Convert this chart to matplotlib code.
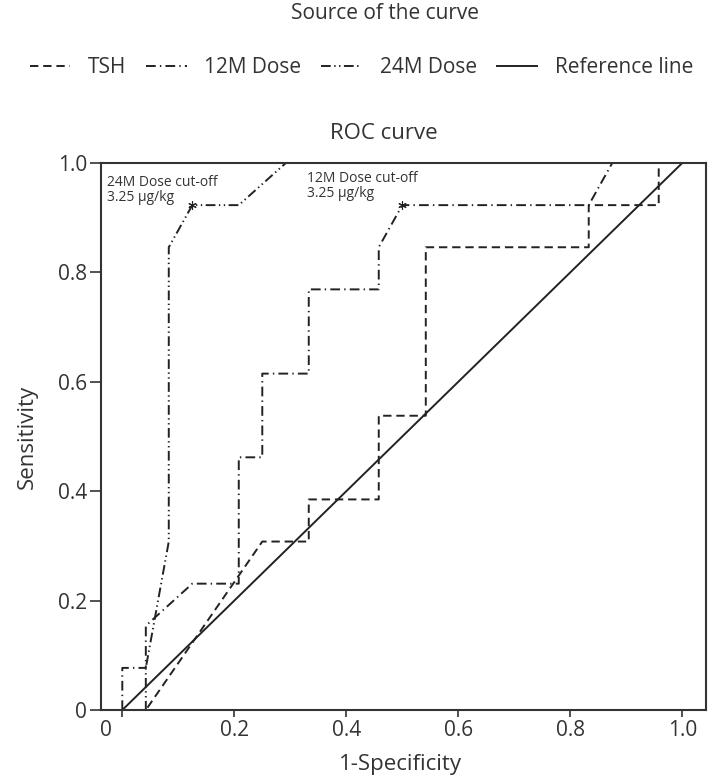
import numpy as np
import matplotlib
matplotlib.use("Agg")
import matplotlib.pyplot as plt
import matplotlib.transforms as mtransforms

plt.rcParams['font.family'] = ['Open Sans', 'DejaVu Sans']
plt.rcParams['lines.scale_dashes'] = False

# ROC curve coordinates
tsh_fpr = [0, 0.042, 0.25, 0.333, 0.333, 0.458, 0.458, 0.542, 0.542, 0.833, 0.833, 0.958, 0.958, 1.0]
tsh_tpr = [0, 0, 0.308, 0.308, 0.385, 0.385, 0.538, 0.538, 0.846, 0.846, 0.923, 0.923, 1.0, 1.0]

m12_fpr = [0, 0, 0.042, 0.042, 0.125, 0.208, 0.208, 0.25, 0.25, 0.333, 0.333, 0.458, 0.458, 0.5, 0.833, 0.875, 1.0]
m12_tpr = [0, 0.077, 0.077, 0.154, 0.231, 0.231, 0.462, 0.462, 0.615, 0.615, 0.769, 0.769, 0.846, 0.923, 0.923, 1.0, 1.0]

m24_fpr = [0, 0.042, 0.042, 0.083, 0.083, 0.125, 0.208, 0.292, 1.0]
m24_tpr = [0, 0, 0.077, 0.308, 0.846, 0.923, 0.923, 1.0, 1.0]

ref_x = [0, 1]
ref_y = [0, 1]

cut24 = (0.125, 0.923)
cut12 = (0.5, 0.923)

x_ticks = [0, 0.2, 0.4, 0.6, 0.8, 1.0]
x_tick_labels = ["0", "0.2", "0.4", "0.6", "0.8", "1.0"]
y_ticks = [0, 0.2, 0.4, 0.6, 0.8, 1.0]
y_tick_labels = ["0", "0.2", "0.4", "0.6", "0.8", "1.0"]

ink = "#222222"
txt = "#333333"

fig = plt.figure(figsize=(7.2, 7.77), dpi=100)
ax = fig.add_axes([0.140, 0.0862, 0.841, 0.7040])

lw = 1.4
l1, = ax.plot(tsh_fpr, tsh_tpr, color=ink, lw=lw, linestyle=(0, (6, 3.5)), label="TSH")
l2, = ax.plot(m12_fpr, m12_tpr, color=ink, lw=lw, linestyle=(0, (7, 3, 1, 3)), label="12M Dose")
l3, = ax.plot(m24_fpr, m24_tpr, color=ink, lw=lw, linestyle=(0, (7, 2.5, 1, 2.5, 1, 2.5)), label="24M Dose")
l4, = ax.plot(ref_x, ref_y, color=ink, lw=lw, linestyle="-", label="Reference line")

ax.plot(*cut24, marker=(6, 2, 0), markersize=6, color=ink, mew=0.8)
ax.plot(*cut12, marker=(6, 2, 0), markersize=6, color=ink, mew=0.8)

ax.text(-0.027, 0.951, "24M Dose cut-off\n3.25 µg/kg", fontsize=10, color=txt,
        va="center", ha="left", linespacing=1.05)
ax.text(0.329, 0.958, "12M Dose cut-off\n3.25 µg/kg", fontsize=10, color=txt,
        va="center", ha="left", linespacing=1.05)

ax.set_xlim(-0.0384, 1.043)
ax.set_ylim(0, 1.0)
ax.set_xticks(x_ticks)
ax.set_xticklabels(x_tick_labels)
ax.set_yticks(y_ticks)
ax.set_yticklabels(y_tick_labels)
ax.tick_params(axis="both", labelsize=15, colors=txt, width=1.2)
ax.tick_params(axis="x", length=5, pad=2)
ax.tick_params(axis="y", length=8, pad=2)

# the "0" on the x axis sits left of its tick in the original
zero_lab = ax.get_xticklabels()[0]
zero_lab.set_transform(zero_lab.get_transform() +
                       mtransforms.ScaledTranslation(-16 / 100, 0, fig.dpi_scale_trans))

for s in ax.spines.values():
    s.set_linewidth(1.5)
    s.set_color("#333333")

ax.set_xlabel("1-Specificity", fontsize=16, color=txt, va="center")
ax.xaxis.set_label_coords(0.495, -0.1)
ax.set_ylabel("Sensitivity", fontsize=16, color=txt, labelpad=14)
ax.set_title("ROC curve", fontsize=16, color=txt, pad=17, x=0.468)

fig.text(0.535, 0.982, "Source of the curve", fontsize=15, color=txt, ha="center", va="center")
fig.legend(handles=[l1, l2, l3, l4], loc="center", bbox_to_anchor=(0.502, 0.9125), ncol=4,
           frameon=False, fontsize=15, handlelength=1.95, handletextpad=0.85,
           columnspacing=0.95, labelcolor=txt)

fig.savefig("out.png", dpi=100)
